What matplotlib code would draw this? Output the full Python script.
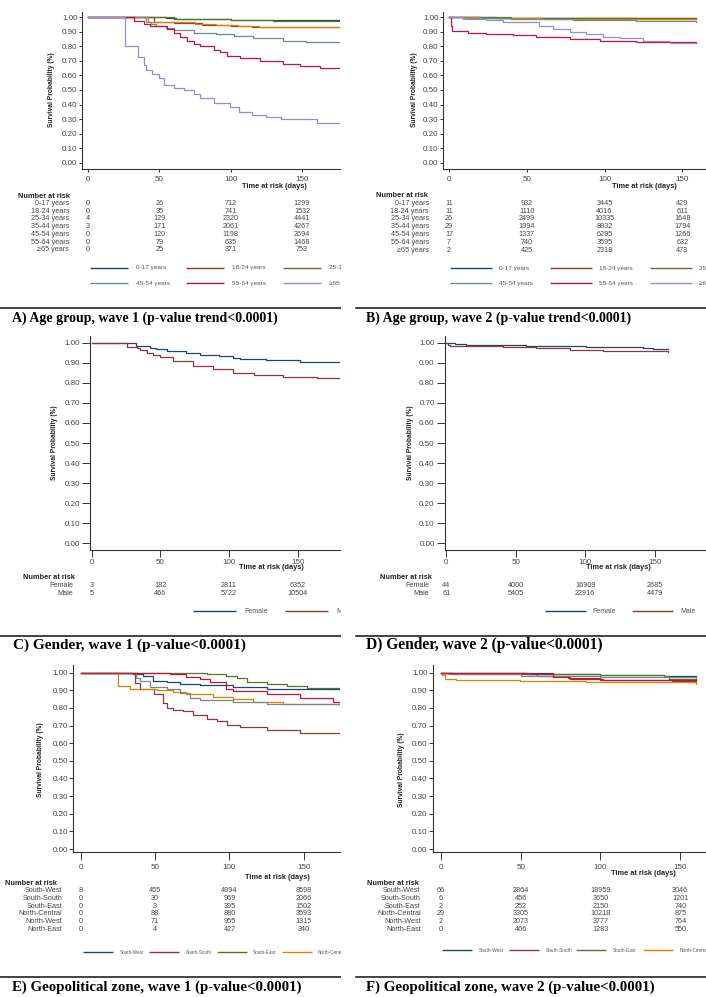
import matplotlib
matplotlib.use('Agg')
import matplotlib.pyplot as plt
import numpy as np
from matplotlib import transforms

plt.rcParams['font.family'] = ['Liberation Sans', 'DejaVu Sans']

W, H = 706, 997
fig = plt.figure(figsize=(W / 100, H / 100), dpi=100)

# ---------------- DATA ----------------
x_ticks = [0, 50, 100, 150]
y_ticks = [0.0, 0.1, 0.2, 0.3, 0.4, 0.5, 0.6, 0.7, 0.8, 0.9, 1.0]

age_labels = ["0-17 years", "18-24 years", "25-34 years", "35-44 years",
              "45-54 years", "55-64 years", "\u226565 years"]
gender_labels = ["Female", "Male"]
zone_labels = ["South-West", "South-South", "South-East", "North-Central",
               "North-West", "North-East"]

age_colors = ["#1a476f", "#90353b", "#55752f", "#e37e00", "#6e8e84", "#c8103e", "#938dd2"]
gender_colors = ["#1a476f", "#90353b"]
zone_colors = ["#1a476f", "#90353b", "#55752f", "#e37e00", "#6e8e84", "#c8103e"]

# Panel A: age group, wave 1
A_t_0_17 = [0, 55, 62, 80, 100, 177]
A_s_0_17 = [1.0, 0.995, 0.99, 0.985, 0.98, 0.978]
A_t_18_24 = [0, 46.5, 60, 80, 100, 115, 177]
A_s_18_24 = [1.0, 0.965, 0.958, 0.948, 0.94, 0.935, 0.932]
A_t_25_34 = [0, 60, 80, 100, 130, 177]
A_s_25_34 = [1.0, 0.99, 0.985, 0.98, 0.977, 0.975]
A_t_35_44 = [0, 42, 60, 75, 90, 105, 120, 177]
A_s_35_44 = [1.0, 0.97, 0.965, 0.955, 0.945, 0.937, 0.932, 0.93]
A_t_45_54 = [0, 41, 44, 48, 55, 60, 74, 90, 102, 116, 137, 153, 177]
A_s_45_54 = [1.0, 0.97, 0.955, 0.94, 0.925, 0.91, 0.89, 0.882, 0.87, 0.855, 0.84, 0.83, 0.825]
A_t_55_64 = [0, 32, 39, 43.7, 55.4, 60, 64.7, 69.4, 74, 78.7, 88, 92.8, 97.4, 106.8, 120.8, 137, 148.8, 162.9, 177]
A_s_55_64 = [1.0, 0.977, 0.954, 0.94, 0.917, 0.89, 0.862, 0.84, 0.816, 0.80, 0.775, 0.764, 0.734, 0.718, 0.70, 0.679, 0.665, 0.651, 0.642]
A_t_65 = [0, 25.7, 34.8, 39, 40.7, 44.9, 49.5, 53, 60, 67, 74, 78.7, 88, 99.8, 106, 115, 125, 135, 160.5, 177]
A_s_65 = [1.0, 0.80, 0.73, 0.67, 0.64, 0.61, 0.58, 0.534, 0.515, 0.50, 0.47, 0.443, 0.41, 0.38, 0.35, 0.328, 0.316, 0.298, 0.275, 0.26]

# Panel B: age group, wave 2
B_t_0_17 = [0, 30, 80, 159]
B_s_0_17 = [1.0, 0.998, 0.995, 0.993]
B_t_18_24 = [0, 20, 60, 120, 159]
B_s_18_24 = [1.0, 0.997, 0.993, 0.99, 0.99]
B_t_25_34 = [0, 40, 100, 159]
B_s_25_34 = [1.0, 0.998, 0.995, 0.994]
B_t_35_44 = [0, 20, 60, 100, 159]
B_s_35_44 = [1.0, 0.995, 0.99, 0.986, 0.985]
B_t_45_54 = [0, 10, 40, 80, 120, 159]
B_s_45_54 = [1.0, 0.995, 0.99, 0.98, 0.972, 0.968]
B_t_55_64 = [0, 1, 2, 12, 24, 41, 56, 78, 97, 120, 159]
B_s_55_64 = [1.0, 0.94, 0.905, 0.895, 0.885, 0.877, 0.865, 0.85, 0.84, 0.833, 0.825]
B_t_65 = [0, 9, 24, 35, 52, 58, 67, 78, 88, 99, 110, 125, 142, 159]
B_s_65 = [1.0, 0.99, 0.98, 0.97, 0.965, 0.94, 0.92, 0.90, 0.885, 0.865, 0.855, 0.835, 0.826, 0.822]

# Panel C: gender, wave 1
C_t_female = [0, 32.3, 42.5, 47, 54.6, 69, 79, 93, 103, 108, 127, 152, 181]
C_s_female = [1.0, 0.985, 0.975, 0.97, 0.96, 0.95, 0.94, 0.935, 0.925, 0.92, 0.913, 0.905, 0.90]
C_t_male = [0, 25.5, 32.8, 35, 40, 45, 50, 59.5, 74, 88.6, 103, 118, 139.6, 163.8, 181]
C_s_male = [1.0, 0.98, 0.975, 0.965, 0.95, 0.94, 0.93, 0.91, 0.885, 0.87, 0.85, 0.84, 0.83, 0.825, 0.818]

# Panel D: gender, wave 2
D_t_female = [0, 6, 14.4, 57.6, 100.8, 141.6, 149, 159.6]
D_s_female = [1.0, 0.995, 0.99, 0.985, 0.98, 0.975, 0.97, 0.97]
D_t_male = [0, 1, 2.4, 40.8, 64.8, 88.8, 112.8, 159.6]
D_s_male = [1.0, 0.99, 0.985, 0.98, 0.975, 0.965, 0.96, 0.955]

# Panel E: geopolitical zone, wave 1
E_t_sw = [0, 35, 42, 48.7, 57.7, 66.7, 80, 102.6, 125, 174.5]
E_s_sw = [1.0, 0.99, 0.98, 0.955, 0.945, 0.935, 0.93, 0.92, 0.91, 0.90]
E_t_ss = [0, 36.4, 39.7, 49.3, 55.4, 57.7, 62.2, 69, 75.7, 84.7, 91.4, 98.1, 107.1, 125, 147.5, 174.5]
E_s_ss = [1.0, 0.943, 0.905, 0.88, 0.83, 0.80, 0.79, 0.78, 0.76, 0.74, 0.726, 0.703, 0.694, 0.675, 0.66, 0.64]
E_t_se = [0, 84.7, 98, 105, 111.6, 125, 138.6, 152, 174.5]
E_s_se = [1.0, 0.99, 0.98, 0.97, 0.945, 0.935, 0.925, 0.915, 0.91]
E_t_nc = [0, 25.2, 33, 51, 62, 71, 89, 102.6, 116, 136, 174.5]
E_s_nc = [1.0, 0.925, 0.905, 0.90, 0.89, 0.88, 0.865, 0.85, 0.835, 0.825, 0.815]
E_t_nw = [0, 37, 40, 46.5, 57.7, 66.7, 73.4, 80, 102.6, 125, 174.5]
E_s_nw = [1.0, 0.97, 0.955, 0.92, 0.905, 0.885, 0.855, 0.845, 0.835, 0.825, 0.81]
E_t_ne = [0, 60, 71, 80, 87, 98, 102.6, 125, 147.5, 170, 174.5]
E_s_ne = [1.0, 0.99, 0.975, 0.965, 0.945, 0.905, 0.895, 0.88, 0.855, 0.835, 0.825]

# Panel F: geopolitical zone, wave 2
F_t_sw = [0, 30, 70, 100, 140, 160]
F_s_sw = [1.0, 0.997, 0.993, 0.987, 0.982, 0.98]
F_t_ss = [0, 8, 40, 60, 80, 100, 145, 160]
F_s_ss = [1.0, 0.995, 0.99, 0.98, 0.97, 0.96, 0.955, 0.955]
F_t_se = [0, 55, 100, 140, 143, 160]
F_s_se = [1.0, 0.995, 0.988, 0.982, 0.965, 0.962]
F_t_nc = [0, 1, 2.5, 9.8, 49.4, 91, 160]
F_s_nc = [1.0, 0.985, 0.965, 0.96, 0.955, 0.945, 0.935]
F_t_nw = [0, 5, 50, 100, 160]
F_s_nw = [1.0, 0.995, 0.983, 0.975, 0.972]
F_t_ne = [0, 53.6, 70, 80.7, 101.6, 160]
F_s_ne = [1.0, 0.99, 0.975, 0.965, 0.96, 0.958]

# Numbers at risk (at 0, 50, 100, 150 days)
A_risk_0_17 = [0, 26, 712, 1299]
A_risk_18_24 = [0, 35, 741, 1532]
A_risk_25_34 = [4, 129, 2320, 4441]
A_risk_35_44 = [3, 171, 2061, 4267]
A_risk_45_54 = [0, 120, 1198, 2694]
A_risk_55_64 = [0, 79, 635, 1468]
A_risk_65 = [0, 25, 371, 753]

B_risk_0_17 = [11, 932, 3445, 429]
B_risk_18_24 = [11, 1110, 4016, 611]
B_risk_25_34 = [26, 2499, 10335, 1648]
B_risk_35_44 = [29, 1994, 8832, 1794]
B_risk_45_54 = [17, 1337, 6295, 1266]
B_risk_55_64 = [7, 740, 3595, 632]
B_risk_65 = [2, 425, 2318, 473]

C_risk_female = [3, 182, 2811, 6352]
C_risk_male = [5, 466, 5722, 10504]

D_risk_female = [44, 4000, 16909, 2685]
D_risk_male = [61, 5405, 22916, 4479]

E_risk_sw = [8, 455, 4994, 8598]
E_risk_ss = [0, 30, 969, 2066]
E_risk_se = [0, 3, 395, 1502]
E_risk_nc = [0, 88, 880, 3593]
E_risk_nw = [0, 71, 955, 1315]
E_risk_ne = [0, 4, 427, 340]

F_risk_sw = [66, 2864, 18959, 3046]
F_risk_ss = [6, 456, 3650, 1201]
F_risk_se = [2, 252, 2150, 740]
F_risk_nc = [29, 3305, 10218, 875]
F_risk_nw = [2, 2073, 3777, 764]
F_risk_ne = [0, 466, 1283, 550]

captions = ["A) Age group, wave 1 (p-value trend<0.0001)",
            "B) Age group, wave 2 (p-value trend<0.0001)",
            "C) Gender, wave 1 (p-value<0.0001)",
            "D) Gender, wave 2 (p-value<0.0001)",
            "E) Geopolitical zone, wave 1 (p-value<0.0001)",
            "F) Geopolitical zone, wave 2 (p-value<0.0001)"]

# ---------------- DRAWING ----------------
SANS = ['Liberation Sans', 'DejaVu Sans']
SERIF = ['Liberation Serif', 'DejaVu Serif']
GRAY = '#444444'
PT = 0.72  # points per pixel at 100 dpi


def overlay(x0, x1, y0, y1):
    a = fig.add_axes([x0 / W, 1 - y1 / H, (x1 - x0) / W, (y1 - y0) / H])
    a.set_xlim(x0, x1)
    a.set_ylim(y1, y0)
    a.axis('off')
    return a


def panel(cell, sx, rx, ty, by, x0p, x150p, y1p, y0p,
          xtl, ytl, xpad, ypad, curves, colors):
    ov = overlay(*cell)
    k = (x150p - x0p) / 150.0
    ax = fig.add_axes([sx / W, 1 - by / H, (rx - sx) / W, (by - ty) / H])
    ax.patch.set_alpha(0)
    ax.set_xlim((sx - x0p) / k, (rx - x0p) / k)
    ax.set_ylim((y0p - by) / (y0p - y1p), (y0p - ty) / (y0p - y1p))
    for s in ['top', 'right']:
        ax.spines[s].set_visible(False)
    for s in ['left', 'bottom']:
        ax.spines[s].set_color('#333333')
        ax.spines[s].set_linewidth(0.8)
    for (t, sv), c in zip(curves, colors):
        ax.step(t, sv, where='post', color=c, lw=0.9)
    ax.set_xticks(x_ticks)
    ax.set_xticklabels([str(v) for v in x_ticks])
    ax.set_yticks(y_ticks)
    ax.set_yticklabels(['%.2f' % v for v in y_ticks])
    ax.tick_params(axis='x', length=xtl * PT, pad=xpad * PT, labelsize=5.8,
                   colors='#333333', labelcolor=GRAY, width=0.7)
    ax.tick_params(axis='y', length=ytl * PT, pad=ypad * PT, labelsize=5.8,
                   colors='#333333', labelcolor=GRAY, width=0.7)
    return ov, ax


def ylabel(x, y):
    fig.text(x / W, 1 - y / H, "Survival Probability (%)", rotation=90,
             ha='center', va='center', fontsize=4.8, fontweight='bold',
             color='#222222', family=SANS)


def xlabel(ov, x, y):
    ov.text(x, y, "Time at risk (days)", ha='right', va='center', fontsize=5.3,
            fontweight='bold', color='#222222', family=SANS, clip_on=True)


def risk_table(ov, ax, nx, ny, lx, y_first, dy, labels, rows):
    ov.text(nx, ny, "Number at risk", ha='left', va='center', fontsize=5.3,
            fontweight='bold', color='#222222', family=SANS, clip_on=True)
    tr = transforms.blended_transform_factory(ax.transData, ov.transData)
    for i, (lab, row) in enumerate(zip(labels, rows)):
        y = y_first + i * dy
        ov.text(lx, y, lab, ha='right', va='center', fontsize=5.2, color=GRAY,
                family=SANS, clip_on=True)
        for d, v in zip(x_ticks, row):
            ov.text(d, y, str(v), ha='center', va='center', fontsize=5.2,
                    color=GRAY, family=SANS, transform=tr, clip_on=True)


def legend(ov, rows_y, starts, seg, gap, labels, colors, fs):
    ncol = len(starts)
    for i, (lab, c) in enumerate(zip(labels, colors)):
        r, cidx = divmod(i, ncol)
        if r >= len(rows_y):
            continue
        y = rows_y[r]
        x = starts[cidx]
        ov.plot([x, x + seg], [y, y], color=c, lw=1.0, clip_on=True,
                solid_capstyle='butt')
        ov.text(x + seg + gap, y, lab, ha='left', va='center', fontsize=fs,
                color='#555555', family=SANS, clip_on=True)


def caption(ov, x0, x1, yline, xt, yt, text, fs):
    ov.plot([x0, x1], [yline, yline], color='#222222', lw=1.2, clip_on=True)
    ov.text(xt, yt, text, ha='left', va='center', fontsize=fs,
            fontweight='bold', family=SERIF, color='black', clip_on=True)


# ---- Panel A ----
ovA, axA = panel((0, 341, 0, 330), 82, 340, 11.7, 169, 88, 302, 17.3, 162.7,
                 3, 3, 4, 1.5,
                 [(A_t_0_17, A_s_0_17), (A_t_18_24, A_s_18_24), (A_t_25_34, A_s_25_34),
                  (A_t_35_44, A_s_35_44), (A_t_45_54, A_s_45_54), (A_t_55_64, A_s_55_64),
                  (A_t_65, A_s_65)], age_colors)
ylabel(51.7, 90)
xlabel(ovA, 307, 186)
risk_table(ovA, axA, 18, 196, 69.3, 203.3, 7.75, age_labels,
           [A_risk_0_17, A_risk_18_24, A_risk_25_34, A_risk_35_44, A_risk_45_54,
            A_risk_55_64, A_risk_65])
legend(ovA, [267.7, 283], [90, 186, 283, 379], 38, 8, age_labels, age_colors, 4.6)
caption(ovA, 0, 341, 308, 11.5, 318, captions[0], 10.0)

# ---- Panel B ----
ovB, axB = panel((353, 706, 0, 330), 443, 706, 11.7, 169, 449, 682.3, 17.3, 162.7,
                 3, 3, 4, 1.5,
                 [(B_t_0_17, B_s_0_17), (B_t_18_24, B_s_18_24), (B_t_25_34, B_s_25_34),
                  (B_t_35_44, B_s_35_44), (B_t_45_54, B_s_45_54), (B_t_55_64, B_s_55_64),
                  (B_t_65, B_s_65)], age_colors)
ylabel(414.7, 90)
xlabel(ovB, 676.3, 186)
risk_table(ovB, axB, 375.7, 195, 429, 203.3, 7.8, age_labels,
           [B_risk_0_17, B_risk_18_24, B_risk_25_34, B_risk_35_44, B_risk_45_54,
            B_risk_55_64, B_risk_65])
legend(ovB, [268.3, 283.3], [449.7, 550, 650, 750], 42, 7, age_labels, age_colors, 4.6)
caption(ovB, 356, 706, 308.3, 365.7, 318, captions[1], 10.0)

# ---- Panel C ----
ovC, axC = panel((0, 341, 330, 660), 90, 340, 336, 550, 91.7, 297.7, 342.7, 543.3,
                 6.7, 8, 2, 2,
                 [(C_t_female, C_s_female), (C_t_male, C_s_male)], gender_colors)
ylabel(55, 443)
xlabel(ovC, 303.3, 567.7)
risk_table(ovC, axC, 23, 577.3, 73.3, 585, 8, gender_labels, [C_risk_female, C_risk_male])
legend(ovC, [611], [193, 285], 43, 8, gender_labels, gender_colors, 5.0)
caption(ovC, 0, 341, 635.7, 13.3, 645, captions[2], 11.0)

# ---- Panel D ----
ovD, axD = panel((353, 706, 330, 660), 444.7, 706, 336, 550, 446.3, 654.7, 342.7, 543.3,
                 6.7, 8, 2, 2,
                 [(D_t_female, D_s_female), (D_t_male, D_s_male)], gender_colors)
ylabel(411, 443)
xlabel(ovD, 650.7, 567.7)
risk_table(ovD, axD, 380, 577.3, 429, 585, 8, gender_labels, [D_risk_female, D_risk_male])
legend(ovD, [611], [544.7, 632], 41, 7, gender_labels, gender_colors, 5.0)
caption(ovD, 356, 706, 635.7, 366.3, 645, captions[3], 11.2)

# ---- Panel E ----
ovE, axE = panel((0, 341, 660, 997), 73.3, 340, 665, 852, 81, 303.7, 672.7, 849,
                 8, 4, 4, 1.5,
                 [(E_t_sw, E_s_sw), (E_t_ss, E_s_ss), (E_t_se, E_s_se),
                  (E_t_nc, E_s_nc), (E_t_nw, E_s_nw), (E_t_ne, E_s_ne)], zone_colors)
ylabel(40, 760)
xlabel(ovE, 310, 877.7)
risk_table(ovE, axE, 5, 883.3, 62.3, 890.7, 7.73, zone_labels,
           [E_risk_sw, E_risk_ss, E_risk_se, E_risk_nc, E_risk_nw, E_risk_ne])
legend(ovE, [952], [83.3, 149.3, 216.7, 281.7, 348, 414], 30, 6, zone_labels, zone_colors, 3.3)
caption(ovE, 0, 341, 976.7, 11.7, 987.3, captions[4], 10.7)

# ---- Panel F ----
ovF, axF = panel((353, 706, 660, 997), 433, 706, 665, 852, 440.7, 680.3, 672.7, 849,
                 8, 4, 4, 1.5,
                 [(F_t_sw, F_s_sw), (F_t_ss, F_s_ss), (F_t_se, F_s_se),
                  (F_t_nc, F_s_nc), (F_t_nw, F_s_nw), (F_t_ne, F_s_ne)], zone_colors)
ylabel(401.3, 770)
xlabel(ovF, 675.7, 873.3)
risk_table(ovF, axF, 367, 883.3, 420.7, 890.7, 7.73, zone_labels,
           [F_risk_sw, F_risk_ss, F_risk_se, F_risk_nc, F_risk_nw, F_risk_ne])
legend(ovF, [950], [442, 509, 576, 643, 710, 777], 30, 7, zone_labels, zone_colors, 3.4)
caption(ovF, 356, 706, 976.7, 366.3, 987.3, captions[5], 10.7)

fig.savefig('out.png', dpi=100)
